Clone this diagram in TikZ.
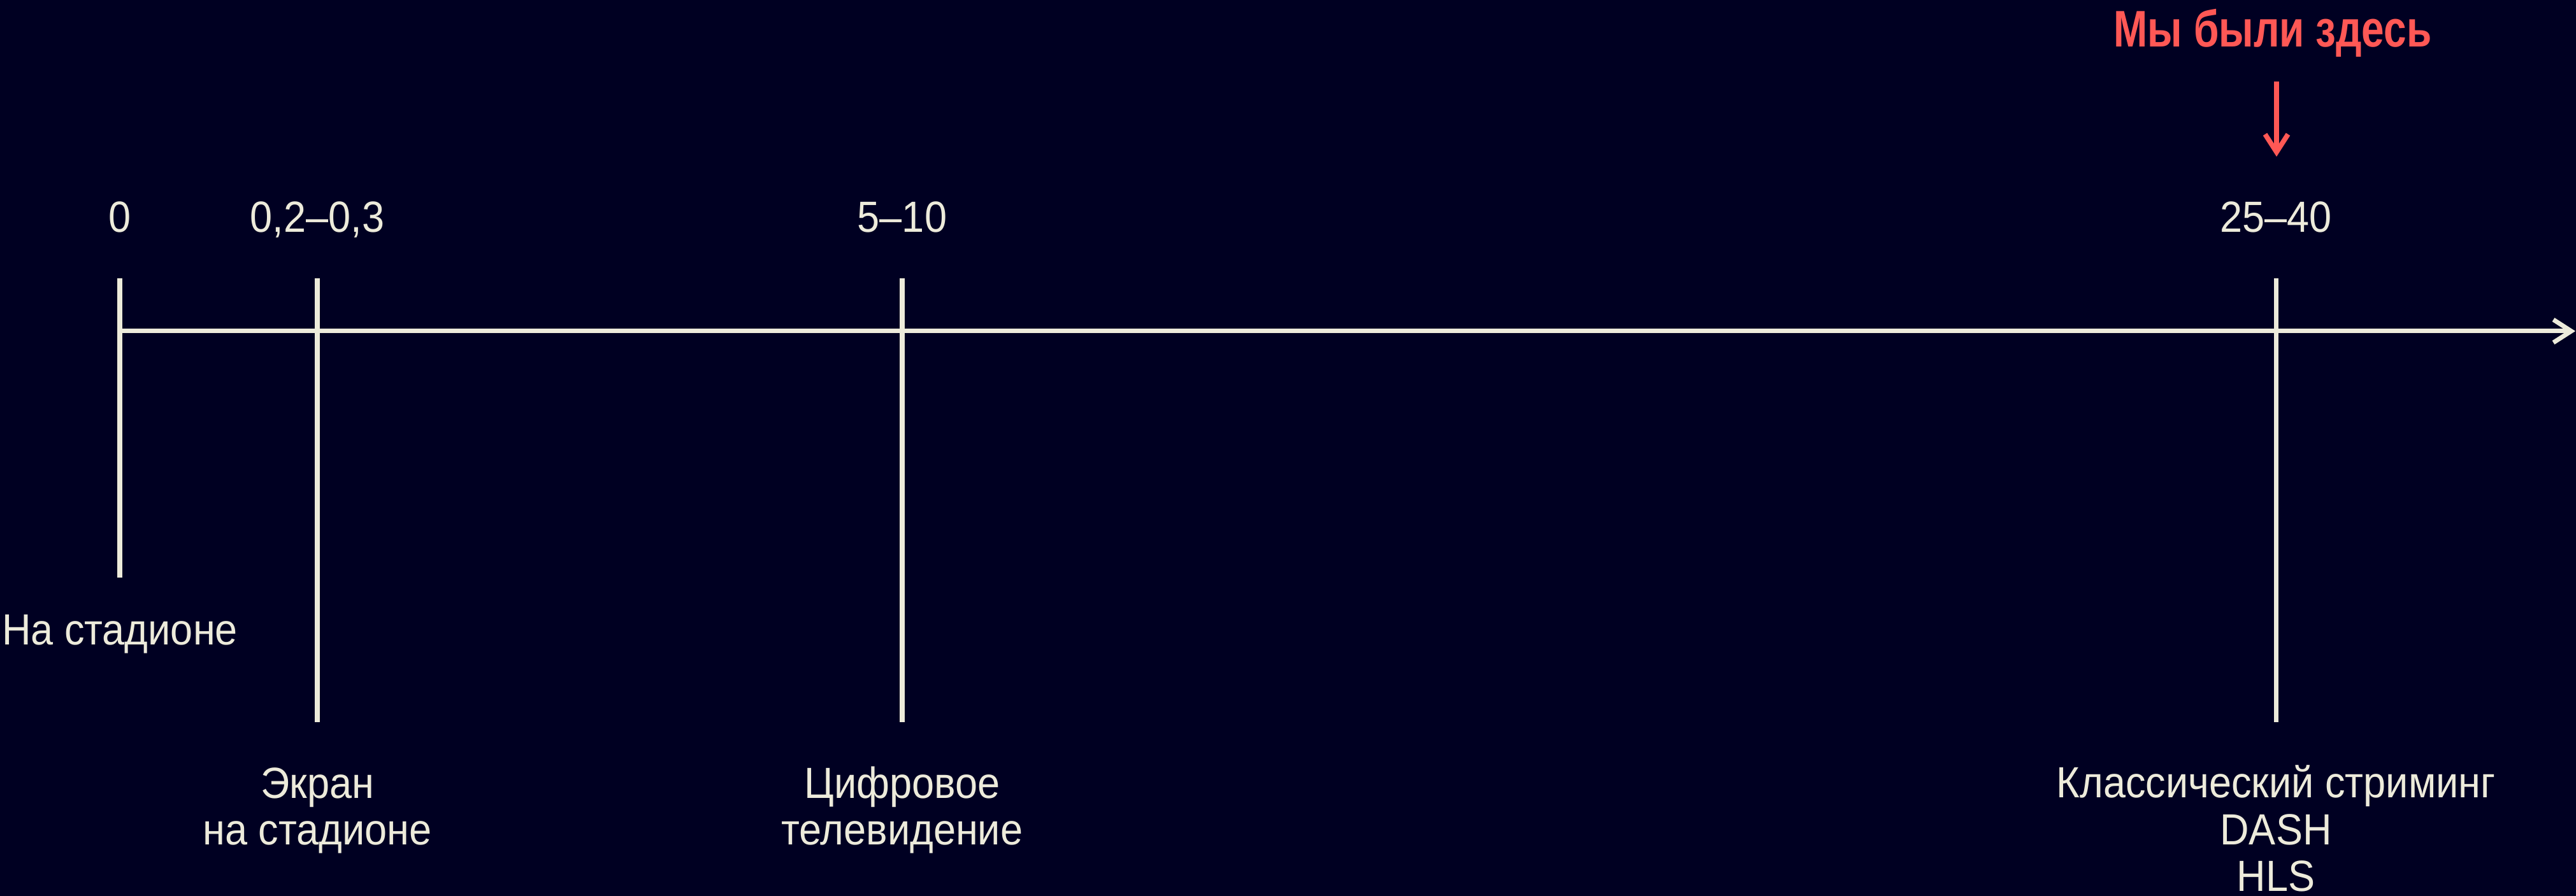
\documentclass[tikz,border=0pt]{standalone}
\usepackage{fontspec}
\setmainfont[FakeStretch=0.92]{Liberation Sans}
\newfontfamily\titlefont[FakeStretch=0.79]{Liberation Sans Bold}
\usetikzlibrary{arrows.meta, positioning}

\definecolor{bgnavy}{RGB}{0,0,34}
\definecolor{cream}{RGB}{237,235,219}
\definecolor{hotred}{RGB}{255,88,85}

\begin{document}
\begin{tikzpicture}[
        axis/.style={-{Straight Barb[length=2.8mm, width=3.6mm]}, line width=2pt, draw=cream},
        tick/.style={line width=2pt, draw=cream},
        lbl/.style={text=cream, font=\fontsize{19.5}{21}\selectfont, anchor=base, inner sep=0pt, align=center},
        here/.style={text=hotred, font=\titlefont\fontsize{23}{26}\selectfont, anchor=base, inner sep=0pt},
        pointer/.style={-{Straight Barb[length=2.8mm, width=3.6mm]}, line width=2.2pt, draw=hotred}
    ]

        % ----------------------------------------------------
        % BACKGROUND
        % ----------------------------------------------------
        \fill[bgnavy] (0,0) rectangle (40.43,14.07);
        \useasboundingbox (0,0) rectangle (40.43,14.07);

        % ----------------------------------------------------
        % TIME AXIS AND TICKS
        % ----------------------------------------------------
        \coordinate (origin) at (1.88,8.87);
        \coordinate (axisend) at (40.42,8.87);

        \coordinate (t0top) at (1.88,9.70);
        \coordinate (t0bot) at (1.88,5.00);
        \coordinate (t1top) at (4.98,9.70);
        \coordinate (t1bot) at (4.98,2.73);
        \coordinate (t2top) at (14.16,9.70);
        \coordinate (t2bot) at (14.16,2.73);
        \coordinate (t3top) at (35.72,9.70);
        \coordinate (t3bot) at (35.72,2.73);

        \draw[axis] (origin) -- (axisend);
        \draw[tick] (t0top) -- (t0bot);
        \draw[tick] (t1top) -- (t1bot);
        \draw[tick] (t2top) -- (t2bot);
        \draw[tick] (t3top) -- (t3bot);

        % ----------------------------------------------------
        % DELAY VALUES
        % ----------------------------------------------------
        \node[lbl] (val0) at (1.88,10.42) {0};
        \node[lbl] (val1) at (4.98,10.42) {0,2–0,3};
        \node[lbl] (val2) at (14.16,10.42) {5–10};
        \node[lbl] (val3) at (35.72,10.42) {25–40};

        % ----------------------------------------------------
        % WAYS TO WATCH (anchored on the last line)
        % ----------------------------------------------------
        \node[lbl] (stadium) at (1.88,3.94) {На стадионе};
        \node[lbl] (screen) at (4.98,0.80) {Экран\\на стадионе};
        \node[lbl] (digitaltv) at (14.16,0.80) {Цифровое\\телевидение};
        \node[lbl] (streaming) at (35.72,0.07) {Классический стриминг\\DASH\\HLS};

        % ----------------------------------------------------
        % MARKER
        % ----------------------------------------------------
        \node[here] (wewere) at (35.67,13.33) {Мы были здесь};
        \coordinate (pstart) at (35.73,12.79);
        \coordinate (pend) at (35.73,11.61);
        \draw[pointer] (pstart) -- (pend);

    \end{tikzpicture}
\end{document}
